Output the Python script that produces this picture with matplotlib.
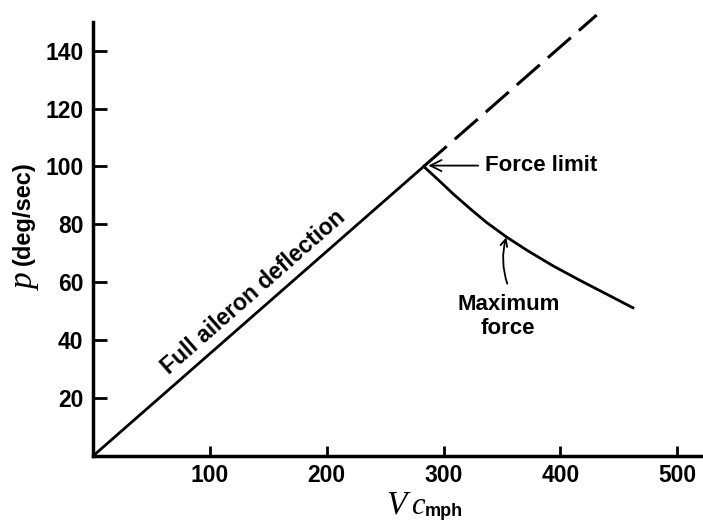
import matplotlib
matplotlib.use("Agg")
import matplotlib.pyplot as plt

# data (V_c in mph, p in deg/sec)
full_v = [0, 283]
full_p = [0, 100]
extension_v = [283, 431]
extension_p = [100, 152.3]
force_v = [283, 297, 308, 323, 337, 354, 372, 394, 417, 440, 462]
force_p = [100, 94.8, 90.6, 85.3, 80.6, 75.6, 70.9, 65.6, 60.6, 55.8, 51.2]
x_ticks = [100, 200, 300, 400, 500]
y_ticks = [20, 40, 60, 80, 100, 120, 140]

W, H = 703, 524
sans = "Liberation Sans"
serif = "Liberation Serif"

fig = plt.figure(figsize=(W / 100, H / 100), dpi=100)
ax = fig.add_axes([93 / W, 68 / H, 610 / W, 443 / H])

ax.plot(full_v, full_p, color="black", lw=2, solid_capstyle="butt")
ax.plot(extension_v, extension_p, color="black", lw=2.2,
        linestyle=(0, (10, 3.5)), clip_on=False)
ax.plot(force_v, force_p, color="black", lw=2, solid_joinstyle="round")

ax.set_xlim(0, 522)
ax.set_ylim(0, 153)
ax.set_xticks(x_ticks)
ax.set_yticks(y_ticks)
ax.set_xticklabels([str(v) for v in x_ticks], fontfamily=sans, fontweight="bold", fontsize=16.5)
ax.set_yticklabels([str(v) for v in y_ticks], fontfamily=sans, fontweight="bold", fontsize=16.5)
ax.tick_params(axis="both", direction="in", width=2, color="black")
ax.tick_params(axis="x", length=7, pad=6)
ax.tick_params(axis="y", length=10, pad=7)

for s in ["top", "right"]:
    ax.spines[s].set_visible(False)
for s in ["left", "bottom"]:
    ax.spines[s].set_linewidth(2.5)
ax.spines["left"].set_bounds(0, 150)

# labels on the lines
ax.text(137, 56.6, "Full aileron deflection", rotation=41.3, rotation_mode="anchor",
        ha="center", va="center", fontfamily=sans, fontweight="bold", fontsize=16.5)

ax.annotate("Force limit", xy=(287, 100.3), xytext=(335.6, 100.3),
            ha="left", va="center", fontfamily=sans, fontweight="bold", fontsize=16,
            arrowprops=dict(arrowstyle="->,head_length=0.5,head_width=0.25",
                            lw=1.3, color="black", shrinkA=3, shrinkB=0))

ax.text(355.3, 48.3, "Maximum\nforce", ha="center", va="center", linespacing=1.2,
        fontfamily=sans, fontweight="bold", fontsize=16)
ax.annotate("", xy=(353.6, 75.5), xytext=(354.5, 59.5),
            arrowprops=dict(arrowstyle="->,head_length=0.5,head_width=0.25",
                            lw=1.3, color="black", shrinkA=0, shrinkB=0,
                            connectionstyle="arc3,rad=-0.15"))

# axis titles
fig.text(26 / W, 1 - 282 / H, "p", rotation=90, ha="center", va="center",
         fontfamily=serif, fontstyle="italic", fontsize=24)
fig.text(23 / W, 1 - 213 / H, "(deg/sec)", rotation=90, ha="center", va="center",
         fontfamily=sans, fontweight="bold", fontsize=17)
fig.text(386 / W, 1 - 513 / H, "V", ha="left", va="baseline",
         fontfamily=serif, fontstyle="italic", fontsize=24)
fig.text(411 / W, 1 - 514 / H, "c", ha="left", va="baseline",
         fontfamily=serif, fontstyle="italic", fontsize=22)
fig.text(425 / W, 1 - 516 / H, "mph", ha="left", va="baseline",
         fontfamily=sans, fontweight="bold", fontsize=13)

fig.savefig("out.png", dpi=100)
